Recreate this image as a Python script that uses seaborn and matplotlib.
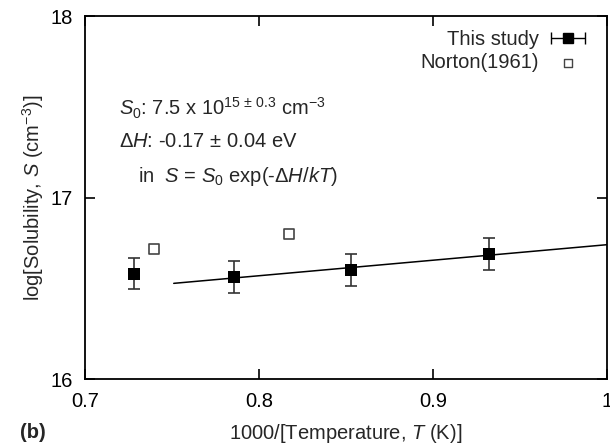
import numpy as np
import pandas as pd
import matplotlib
matplotlib.use("Agg")
import matplotlib.pyplot as plt
from matplotlib.legend_handler import HandlerErrorbar
import seaborn as sns

# This study (1000/T, log S, error)
study_x = [0.728, 0.7855, 0.8527, 0.932]
study_y = [16.579, 16.564, 16.602, 16.690]
study_err = [0.085, 0.088, 0.087, 0.088]

# Norton (1961)
norton_x = [0.7398, 0.8174]
norton_y = [16.715, 16.797]

# fitted line end points
fit_x = [0.751, 1.0]
fit_y = [16.527, 16.740]

sns.set_theme(style="ticks")
plt.rcParams['font.family'] = ['Liberation Sans', 'DejaVu Sans']
plt.rcParams['mathtext.fontset'] = 'custom'
plt.rcParams['mathtext.rm'] = 'Liberation Sans'
plt.rcParams['mathtext.it'] = 'Liberation Sans:italic'
plt.rcParams['mathtext.bf'] = 'Liberation Sans:bold'

fs = 14.5
fig = plt.figure(figsize=(6.1, 4.44), dpi=100)
ax = fig.add_axes([85 / 610, 65 / 444, 522 / 610, 363 / 444])

# fit line
fit = pd.DataFrame({'x': fit_x, 'y': fit_y})
sns.lineplot(data=fit, x='x', y='y', ax=ax, color='black', linewidth=1.1)

# this study with vertical error bars
ax.errorbar(study_x, study_y, yerr=study_err, fmt='none', ecolor='#333333',
            elinewidth=1.2, capsize=4, capthick=1.2, zorder=3)
sns.scatterplot(x=study_x, y=study_y, ax=ax, marker='s', s=75, color='black',
                edgecolor='black', linewidth=0, zorder=4)

# Norton points
sns.scatterplot(x=norton_x, y=norton_y, ax=ax, marker='s', s=55, facecolor='white',
                edgecolor='#444444', linewidth=1.2, zorder=4)

# legend handles
h1 = ax.errorbar([np.nan], [np.nan], xerr=[1], fmt='s', color='black', ms=7,
                 elinewidth=1.0, capsize=4, capthick=1.0)
h2 = ax.scatter([np.nan], [np.nan], marker='s', s=40, facecolor='white',
                edgecolor='#444444', linewidth=1.0)
leg = ax.legend([h1, h2], ['This study', 'Norton(1961)'], loc='upper right',
                markerfirst=False, frameon=False, fontsize=fs, handlelength=1.75,
                handletextpad=0.6, borderaxespad=0.0, labelspacing=0.2,
                bbox_to_anchor=(0.975, 0.983),
                handler_map={h1: HandlerErrorbar(xerr_size=0.85)})

ax.set_xlim(0.7, 1.0)
ax.set_ylim(16, 18)
ax.set_xticks([0.7, 0.8, 0.9, 1.0])
ax.set_xticklabels(['0.7', '0.8', '0.9', '1'])
ax.set_yticks([16, 17, 18])
ax.tick_params(direction='in', length=7, width=1.2, top=True, right=True,
               labelsize=fs, pad=9, colors='black')
for sp in ax.spines.values():
    sp.set_linewidth(1.3)
    sp.set_color('black')

ax.set_xlabel(r'1000/[Temperature, $T$ (K)]', fontsize=fs, labelpad=8)
ax.set_ylabel(r'log[Solubility, $S$ (cm$^{-3}$)]', fontsize=fs, labelpad=3)

# annotation text
ax.text(0.065, 0.727, r'$S_0$: 7.5 x 10$^{15\,\pm\,0.3}$ cm$^{-3}$',
        transform=ax.transAxes, fontsize=fs, va='baseline')
ax.text(0.065, 0.639, r'$\Delta H$: -0.17 $\pm$ 0.04 eV',
        transform=ax.transAxes, fontsize=fs, va='baseline')
ax.text(0.1015, 0.543, r'in  $S$ = $S_0$ exp(-$\Delta H$/$kT$)',
        transform=ax.transAxes, fontsize=fs, va='baseline')

fig.text(20 / 610, 1 - 432 / 444, '(b)', fontsize=fs, fontweight='bold',
         va='center', ha='left')

fig.savefig('out.png', dpi=100)
